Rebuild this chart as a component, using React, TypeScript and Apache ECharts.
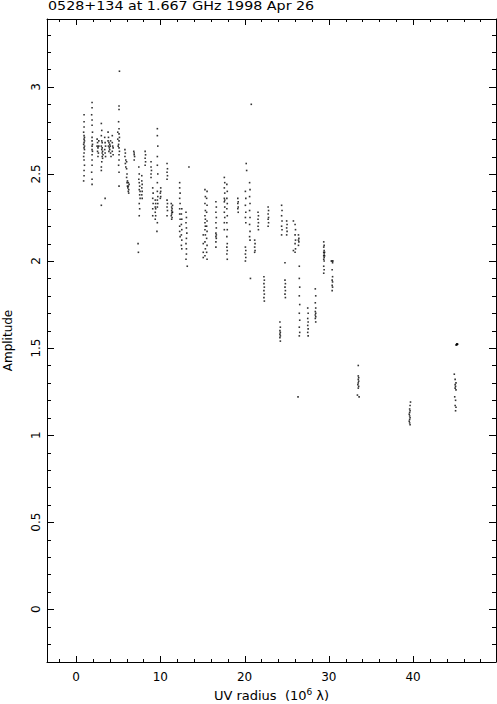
import React, { useEffect, useRef } from "react";
import * as echarts from "echarts";

// Axis ranges and ticks
const X_MIN = -3.45;
const X_MAX = 49.85;
const Y_MIN = -0.303;
const Y_MAX = 3.39;
const xMajor = [0, 10, 20, 30, 40];
const xMinor = [-2, 2, 4, 6, 8, 12, 14, 16, 18, 22, 24, 26, 28, 32, 34, 36, 38, 42, 44, 46, 48];
const yMajor = [0, 0.5, 1, 1.5, 2, 2.5, 3];
const yMinor = [
  -0.2, -0.1, 0.1, 0.2, 0.3, 0.4, 0.6, 0.7, 0.8, 0.9, 1.1, 1.2, 1.3, 1.4, 1.6, 1.7, 1.8, 1.9,
  2.1, 2.2, 2.3, 2.4, 2.6, 2.7, 2.8, 2.9, 3.1, 3.2, 3.3,
];

const titleText = "0528+134 at 1.667 GHz 1998 Apr 26";

// Visibilities: [uv radius (10^6 lambda), amplitude]
const innerBaselines: [number, number][] = [
  [0.95, 2.84], [0.95, 2.8], [0.95, 2.77], [0.9, 2.74], [0.95, 2.72], [1.0, 2.71], [0.95, 2.7], [1.0, 2.69],
  [0.95, 2.68], [0.9, 2.67], [1.0, 2.66], [0.95, 2.65], [1.0, 2.64], [0.95, 2.62], [0.9, 2.6], [0.95, 2.58],
  [1.0, 2.55], [0.95, 2.52], [0.95, 2.49], [0.9, 2.46],
  [1.9, 2.91], [1.9, 2.88], [1.85, 2.84], [1.9, 2.81], [1.9, 2.78], [1.95, 2.74], [1.9, 2.71], [1.9, 2.69],
  [1.95, 2.67], [1.9, 2.66], [1.9, 2.64], [1.95, 2.63], [1.9, 2.61], [1.9, 2.58], [1.9, 2.55], [1.85, 2.51],
  [1.9, 2.47], [1.9, 2.44],
  [2.5, 2.7], [2.55, 2.68], [2.5, 2.66], [2.6, 2.65], [2.55, 2.63], [2.7, 2.69], [2.7, 2.66], [2.65, 2.62], [2.6, 2.6],
  [3.0, 2.79], [3.05, 2.75], [3.0, 2.72], [3.05, 2.69], [3.1, 2.68], [3.0, 2.66], [3.1, 2.65], [3.05, 2.64],
  [3.15, 2.63], [3.1, 2.62], [3.2, 2.61], [3.1, 2.6], [3.15, 2.59], [3.05, 2.57], [3.0, 2.54], [3.0, 2.52],
  [3.45, 2.36], [3.0, 2.32], [3.4, 2.71], [3.45, 2.68], [3.5, 2.66], [3.4, 2.64], [3.45, 2.62], [3.5, 2.6],
  [3.8, 2.74], [3.85, 2.71], [3.8, 2.69], [3.9, 2.68], [3.85, 2.66], [3.95, 2.65], [3.9, 2.63], [4.0, 2.67],
  [4.0, 2.64], [4.1, 2.69], [4.05, 2.66], [4.1, 2.62], [4.15, 2.6], [4.3, 2.72], [4.3, 2.68], [4.35, 2.66],
  [4.3, 2.63], [4.4, 2.65], [4.4, 2.61],
  [5.15, 3.09], [5.1, 2.89], [5.1, 2.87], [5.05, 2.8], [5.1, 2.76], [5.1, 2.73], [5.15, 2.71], [5.1, 2.69],
  [5.05, 2.67], [5.1, 2.65], [5.15, 2.63], [5.1, 2.61], [5.1, 2.58], [5.05, 2.55], [5.1, 2.51], [5.1, 2.43],
  [4.95, 2.74], [4.95, 2.7], [5.0, 2.66],
  [5.8, 2.64], [5.85, 2.62], [5.8, 2.6], [5.9, 2.58], [5.85, 2.56], [5.9, 2.54], [6.0, 2.57], [6.0, 2.53],
  [6.05, 2.5], [6.0, 2.48], [6.1, 2.46], [6.05, 2.45], [6.1, 2.43], [6.15, 2.42], [6.2, 2.45], [6.2, 2.43],
  [6.25, 2.41], [6.2, 2.4], [6.3, 2.44], [6.25, 2.39],
  [6.85, 2.63], [6.9, 2.62], [6.9, 2.61], [6.95, 2.6], [6.9, 2.58],
  [7.45, 2.54], [7.5, 2.5], [7.45, 2.47], [7.5, 2.45], [7.55, 2.43], [7.5, 2.41], [7.6, 2.4], [7.55, 2.38],
  [7.6, 2.36], [7.5, 2.33], [7.55, 2.3], [7.5, 2.26], [7.36, 2.1], [7.4, 2.05], [7.8, 2.49], [7.8, 2.46],
  [7.85, 2.44], [7.8, 2.42], [7.85, 2.4], [7.8, 2.38], [7.85, 2.36],
  [8.2, 2.63], [8.25, 2.61], [8.2, 2.59], [8.25, 2.57], [8.2, 2.55], [8.9, 2.57], [8.9, 2.54], [8.95, 2.52],
  [8.9, 2.5], [8.9, 2.48],
  [9.1, 2.42], [9.15, 2.39], [9.1, 2.36], [9.15, 2.33], [9.1, 2.3], [9.1, 2.26], [9.4, 2.35], [9.45, 2.33],
  [9.4, 2.31], [9.45, 2.3], [9.4, 2.28], [9.45, 2.26], [9.4, 2.24], [9.65, 2.76], [9.65, 2.72], [9.7, 2.66],
  [9.65, 2.6], [9.65, 2.55], [9.7, 2.5], [9.65, 2.45], [9.65, 2.4], [9.7, 2.37], [9.65, 2.35], [9.7, 2.33],
  [9.65, 2.31], [9.6, 2.17], [9.65, 2.22],
];

const midBaselines: [number, number][] = [
  [10.05, 2.42], [10.05, 2.4], [10.0, 2.39], [10.05, 2.37], [10.0, 2.36],
  [10.8, 2.56], [10.85, 2.53], [10.8, 2.51], [10.85, 2.49], [10.8, 2.47], [10.8, 2.35], [10.85, 2.33],
  [10.8, 2.31], [10.85, 2.29], [10.8, 2.26],
  [11.3, 2.33], [11.35, 2.31], [11.4, 2.3], [11.35, 2.29], [11.4, 2.28], [11.35, 2.27], [11.3, 2.26],
  [11.4, 2.25], [11.35, 2.24], [11.45, 2.32], [11.45, 2.28],
  [12.3, 2.45], [12.3, 2.42], [12.35, 2.39], [12.3, 2.36], [12.35, 2.33], [12.3, 2.3], [12.3, 2.27],
  [12.35, 2.24], [12.3, 2.2], [12.3, 2.17], [12.35, 2.14], [12.55, 2.3], [12.5, 2.27], [12.55, 2.24],
  [12.5, 2.21], [12.55, 2.18], [12.5, 2.15], [12.55, 2.12], [12.5, 2.09], [12.55, 2.07],
  [13.05, 2.28], [13.1, 2.25], [13.05, 2.22], [13.1, 2.19], [13.15, 2.16], [13.1, 2.13], [13.05, 2.1],
  [13.1, 2.07], [13.1, 2.04], [13.05, 2.01], [13.2, 1.97], [13.4, 2.54],
  [15.1, 2.15], [15.1, 2.1], [15.1, 2.05], [15.1, 2.02],
  [15.3, 2.41], [15.35, 2.37], [15.3, 2.33], [15.35, 2.29], [15.3, 2.26], [15.35, 2.24], [15.3, 2.22],
  [15.35, 2.2], [15.3, 2.18], [15.35, 2.15], [15.3, 2.11], [15.35, 2.07], [15.3, 2.03], [15.55, 2.4],
  [15.5, 2.36], [15.55, 2.32], [15.5, 2.28], [15.55, 2.23], [15.5, 2.2], [15.55, 2.17], [15.5, 2.13],
  [15.55, 2.09], [15.5, 2.05], [15.55, 2.01],
  [16.6, 2.34], [16.65, 2.31], [16.6, 2.28], [16.65, 2.25], [16.6, 2.22], [16.65, 2.19], [16.6, 2.16],
  [16.65, 2.15], [16.6, 2.14], [16.65, 2.13], [16.6, 2.11], [16.6, 2.08],
  [17.6, 2.48], [17.65, 2.45], [17.6, 2.42], [17.65, 2.39], [17.6, 2.36], [17.65, 2.35], [17.6, 2.34],
  [17.65, 2.31], [17.6, 2.28], [17.65, 2.25], [17.6, 2.22], [17.6, 2.18], [17.9, 2.44], [17.95, 2.4],
  [17.9, 2.36], [17.95, 2.33], [17.9, 2.3], [17.95, 2.26], [17.9, 2.22], [17.95, 2.18], [17.9, 2.14],
  [17.95, 2.1], [17.9, 2.08], [17.95, 2.06], [17.9, 2.04], [17.95, 2.01],
  [19.2, 2.36], [19.25, 2.34], [19.2, 2.33], [19.25, 2.31], [19.2, 2.3], [19.25, 2.28],
];

const outerBaselines: [number, number][] = [
  [20.1, 2.4], [20.15, 2.36], [20.1, 2.32], [20.15, 2.28], [20.1, 2.25], [20.15, 2.22], [20.1, 2.08],
  [20.15, 2.06], [20.1, 2.04], [20.15, 2.02], [20.1, 2.0], [20.2, 2.56], [20.25, 2.52], [20.6, 2.45],
  [20.65, 2.41], [20.6, 2.37], [20.65, 2.33], [20.6, 2.29], [20.65, 2.25], [20.6, 2.21], [20.65, 2.17],
  [20.6, 2.14], [20.65, 2.12], [20.8, 2.9], [20.7, 1.9],
  [21.2, 2.12], [21.25, 2.1], [21.2, 2.08], [21.25, 2.06], [21.2, 2.05], [21.6, 2.28], [21.65, 2.26],
  [21.6, 2.24], [21.65, 2.22], [21.6, 2.2], [21.65, 2.18],
  [22.3, 1.91], [22.35, 1.89], [22.3, 1.87], [22.35, 1.85], [22.3, 1.83], [22.35, 1.81], [22.3, 1.79], [22.35, 1.77],
  [22.8, 2.31], [22.85, 2.29], [22.8, 2.27], [22.85, 2.25], [22.8, 2.24], [22.85, 2.22], [22.8, 2.2],
  [24.4, 2.32], [24.45, 2.29], [24.4, 2.26], [24.45, 2.23], [24.4, 2.2], [24.45, 2.18], [24.4, 2.15],
  [24.8, 1.99], [24.8, 1.89], [24.85, 1.87], [24.8, 1.85], [24.85, 1.83], [24.8, 1.81], [24.85, 1.79],
  [25.0, 2.23], [25.05, 2.21], [25.0, 2.19], [25.05, 2.17], [25.0, 2.15], [24.2, 1.65], [24.25, 1.62],
  [24.2, 1.6], [24.25, 1.59], [24.2, 1.58], [24.25, 1.57], [24.2, 1.56], [24.25, 1.54],
  [25.8, 2.23], [25.8, 2.06], [26.0, 2.21], [26.05, 2.18], [26.0, 2.15], [26.05, 2.12], [26.0, 2.1],
  [26.05, 2.07], [26.0, 2.05], [26.4, 2.15], [26.45, 2.13], [26.4, 2.12], [26.45, 2.11], [26.4, 2.09],
  [26.5, 1.97], [26.5, 1.9], [26.55, 1.85], [26.5, 1.8], [26.55, 1.75], [26.5, 1.7], [26.55, 1.66],
  [26.5, 1.62], [26.55, 1.59], [26.5, 1.57], [26.35, 1.22],
  [27.5, 1.73], [27.55, 1.7], [27.5, 1.67], [27.55, 1.65], [27.5, 1.63], [27.55, 1.61], [27.5, 1.59], [27.55, 1.57],
  [28.4, 1.84], [28.45, 1.8], [28.4, 1.76], [28.45, 1.73], [28.4, 1.71], [28.45, 1.7], [28.4, 1.69],
  [28.45, 1.68], [28.4, 1.67], [28.45, 1.65],
  [29.4, 2.11], [29.45, 2.09], [29.4, 2.08], [29.45, 2.06], [29.4, 2.05], [29.45, 2.04], [29.4, 2.03],
  [29.45, 2.02], [29.4, 2.01], [29.45, 2.0], [29.4, 1.97], [29.45, 1.95], [29.4, 1.93], [29.5, 2.05], [29.5, 2.03],
  [30.4, 2.0], [30.45, 1.99], [30.4, 1.95], [30.45, 1.91], [30.4, 1.89], [30.45, 1.88], [30.4, 1.86],
  [30.45, 1.85], [30.4, 1.83], [30.3, 2.0], [30.5, 2.0],
];

const longBaselines: [number, number][] = [
  [33.5, 1.4], [33.5, 1.34], [33.55, 1.33], [33.5, 1.32], [33.55, 1.31], [33.5, 1.3], [33.45, 1.29],
  [33.55, 1.28], [33.5, 1.27], [33.4, 1.23], [33.6, 1.22],
  [39.7, 1.19], [39.65, 1.17], [39.6, 1.15], [39.65, 1.14], [39.6, 1.13], [39.55, 1.12], [39.6, 1.11],
  [39.65, 1.1], [39.6, 1.09], [39.55, 1.08], [39.6, 1.07], [39.65, 1.06],
  [45.2, 1.525], [45.25, 1.523], [45.3, 1.522], [45.15, 1.52], [45.2, 1.518], [45.1, 1.518],
  [44.9, 1.35], [45.0, 1.32], [45.1, 1.3], [45.0, 1.29], [45.05, 1.28], [45.0, 1.27], [45.1, 1.26],
  [44.95, 1.22], [45.05, 1.2], [45.0, 1.17], [45.1, 1.16], [45.05, 1.14],
];

const FONT = "DejaVu Sans";

const MAJOR_X_LEN = 6;
const MINOR_X_LEN = 3;
const MAJOR_Y_LEN = 7;
const MINOR_Y_LEN = 4;

function frameAxis(kind: "x" | "y", position: string, extra: any = {}) {
  return {
    type: "value",
    gridIndex: 0,
    position,
    min: kind === "x" ? X_MIN : Y_MIN,
    max: kind === "x" ? X_MAX : Y_MAX,
    splitLine: { show: false },
    axisLine: { show: true, onZero: false, lineStyle: { color: "#000", width: 1 } },
    axisTick: { show: false },
    axisLabel: { show: false },
    ...extra,
  };
}

const titleGraphic = {
  id: "title",
  type: "text",
  x: 48,
  y: 0,
  scaleX: 1.19,
  style: {
    text: titleText,
    fontSize: 12,
    fontFamily: FONT,
    fill: "#000",
    verticalAlign: "top",
  },
};

export default function App() {
  const ref = useRef<HTMLDivElement>(null);

  useEffect(() => {
    if (!ref.current) return;
    const chart = echarts.init(ref.current, undefined, { renderer: "svg" });
    const allPoints = [...innerBaselines, ...midBaselines, ...outerBaselines, ...longBaselines];

    chart.setOption({
      animation: false,
      backgroundColor: "#fff",
      textStyle: { fontFamily: FONT, color: "#000" },
      grid: { left: 47, right: 1, top: 19, bottom: 42, containLabel: false, outerBoundsMode: "none" },
      graphic: [titleGraphic],
      xAxis: [
        frameAxis("x", "bottom", {
          axisLabel: { show: true, customValues: xMajor, margin: 9, color: "#000", fontSize: 12, fontFamily: FONT },
          name: "{a|UV radius  (10}{s|6}{a| \u03bb)}",
          nameLocation: "middle",
          nameGap: 23,
          nameTextStyle: {
            rich: {
              a: { fontSize: 13, fontFamily: FONT, color: "#000", lineHeight: 16 },
              s: { fontSize: 9, fontFamily: FONT, color: "#000", verticalAlign: "top", lineHeight: 10 },
            },
          },
        }),
        frameAxis("x", "top"),
      ],
      yAxis: [
        frameAxis("y", "left", {
          axisLabel: { show: true, customValues: yMajor, rotate: 90, margin: 5, color: "#000", fontSize: 12, fontFamily: FONT },
          name: "Amplitude",
          nameLocation: "middle",
          nameGap: 33,
          nameTextStyle: { fontSize: 12, fontFamily: FONT, color: "#000" },
        }),
        frameAxis("y", "right"),
      ],
      series: [
        {
          type: "scatter",
          xAxisIndex: 0,
          yAxisIndex: 0,
          symbol: "rect",
          symbolSize: 1.6,
          itemStyle: { color: "#000" },
          data: allPoints,
          silent: true,
        },
      ],
    });

    // Inward tick marks on all four sides, placed through the axes' own scales
    const tickLines: any[] = [];
    const toPx = (pt: number[]) => chart.convertToPixel({ gridIndex: 0 }, pt) as number[];
    const addX = (v: number, len: number) => {
      const b = toPx([v, Y_MIN]);
      const t = toPx([v, Y_MAX]);
      const x = Math.round(b[0]) + 0.5;
      tickLines.push({ type: "line", silent: true, shape: { x1: x, y1: b[1], x2: x, y2: b[1] - len }, style: { stroke: "#000", lineWidth: 1 } });
      tickLines.push({ type: "line", silent: true, shape: { x1: x, y1: t[1], x2: x, y2: t[1] + len }, style: { stroke: "#000", lineWidth: 1 } });
    };
    const addY = (v: number, len: number) => {
      const l = toPx([X_MIN, v]);
      const r = toPx([X_MAX, v]);
      const y = Math.round(l[1]) + 0.5;
      tickLines.push({ type: "line", silent: true, shape: { x1: l[0], y1: y, x2: l[0] + len, y2: y }, style: { stroke: "#000", lineWidth: 1 } });
      tickLines.push({ type: "line", silent: true, shape: { x1: r[0], y1: y, x2: r[0] - len, y2: y }, style: { stroke: "#000", lineWidth: 1 } });
    };
    xMajor.forEach((v) => addX(v, MAJOR_X_LEN));
    xMinor.forEach((v) => addX(v, MINOR_X_LEN));
    yMajor.forEach((v) => addY(v, MAJOR_Y_LEN));
    yMinor.forEach((v) => addY(v, MINOR_Y_LEN));

    chart.setOption({ graphic: [titleGraphic, ...tickLines] });

    return () => chart.dispose();
  }, []);

  return (
    <div
      ref={ref}
      style={{ position: "absolute", left: 0, top: 0, width: 497, height: 704, background: "#fff" }}
    />
  );
}
